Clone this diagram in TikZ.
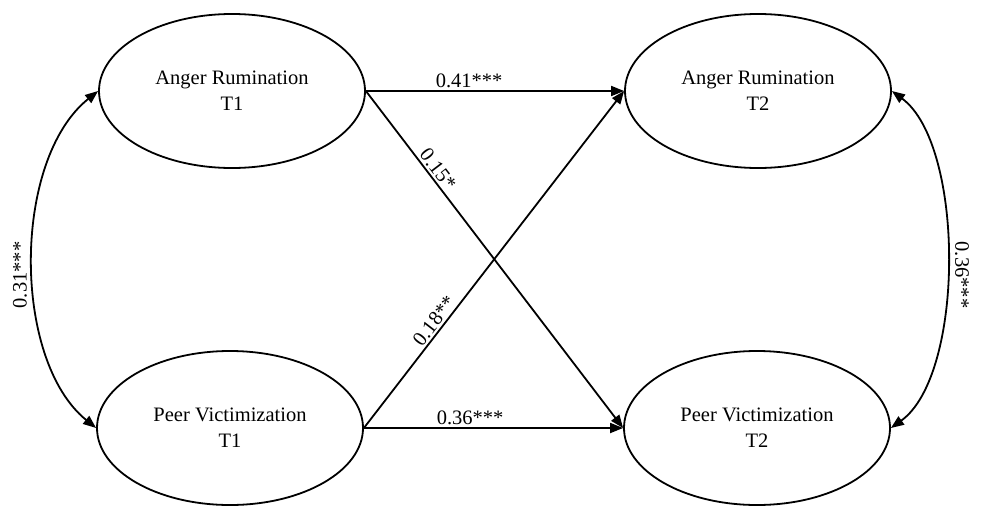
\documentclass[tikz,border=0pt]{standalone}
\usepackage{fontspec}
\setmainfont{Liberation Serif}
\usetikzlibrary{shapes.geometric,arrows.meta}
\begin{document}
\begin{tikzpicture}[x=1pt,y=-1pt,
  ell/.style={draw,ellipse,line width=1.8pt,minimum width=266pt,minimum height=154pt,inner sep=0pt,align=center,font=\fontsize{20.5}{26}\selectfont},
  conn/.style={line width=1.8pt,-{Triangle[length=13pt,width=10pt]}},
  bconn/.style={line width=1.8pt,{Triangle[length=13pt,width=10pt]}-{Triangle[length=13pt,width=10pt]}},
  lab/.style={font=\fontsize{20.5}{24}\selectfont,inner sep=2pt}]
\useasboundingbox (0,0) rectangle (982,506);
\node[ell] (TL) at (232,91) {Anger Rumination\\T1};
\node[ell] (BL) at (230,428) {Peer Victimization\\T1};
\node[ell] (TR) at (758,91) {Anger Rumination\\T2};
\node[ell] (BR) at (757,428) {Peer Victimization\\T2};
\draw[conn] (TL.east) -- node[lab,pos=0.4,above] {0.41***} (TR.west);
\draw[conn] (BL.east) -- node[lab,pos=0.41,above] {0.36***} (BR.west);
\draw[conn] (TL.east) -- node[lab,pos=0.25,above,sloped] {0.15*} (BR.west);
\draw[conn] (BL.east) -- node[lab,pos=0.3,above,sloped] {0.18**} (TR.west);
\draw[bconn] (TL.west) .. controls (12,160) and (12,360) .. (BL.west);
\draw[bconn] (TR.east) .. controls (965,145) and (965,375) .. (BR.east);
\node[lab,rotate=90] (L1) at (20,275) {0.31***};
\node[lab,rotate=-90] (L2) at (962,275) {0.36***};
\end{tikzpicture}
\end{document}
